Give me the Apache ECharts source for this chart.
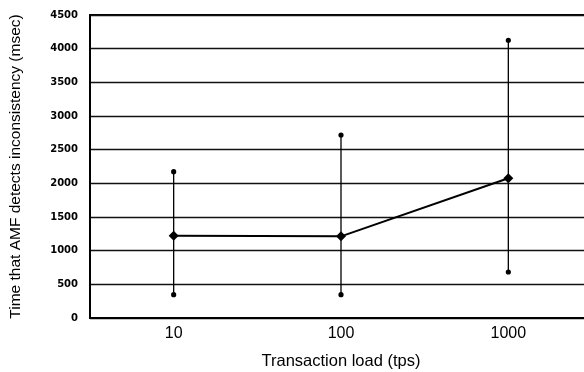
<!DOCTYPE html>
<html><head><meta charset="utf-8">
<script src="https://cdn.jsdelivr.net/npm/echarts@6/dist/echarts.min.js"></script>
<style>html,body{margin:0;padding:0;background:#fff}#c{width:584px;height:372px}</style>
</head><body><div id="c"></div>
<script>
const categories = ['10', '100', '1000'];
const meanValues = [1222, 1213, 2075];
const minValues = [346, 346, 683];
const maxValues = [2173, 2718, 4125];
const yTicks = [0, 500, 1000, 1500, 2000, 2500, 3000, 3500, 4000, 4500];

const errData = categories.map((c, i) => [i, minValues[i], maxValues[i]]);

const chart = echarts.init(document.getElementById('c'), null, {renderer: 'canvas'});
chart.setOption({
  animation: false,
  grid: {left: 90, top: 15, bottom: 54, width: 502, containLabel: false, outerBoundsMode: 'none',
    show: true, borderColor: '#000', borderWidth: 2},
  xAxis: {
    type: 'category', data: categories, boundaryGap: true,
    name: 'Transaction load (tps)', nameLocation: 'middle', nameGap: 35,
    nameTextStyle: {fontFamily: 'Liberation Sans', fontSize: 16.5, color: '#000'},
    axisLine: {lineStyle: {color: '#000', width: 2}},
    axisTick: {show: false},
    axisLabel: {fontFamily: 'Liberation Sans', fontSize: 16, color: '#000', margin: 8}
  },
  yAxis: {
    type: 'value', min: yTicks[0], max: yTicks[yTicks.length - 1], interval: 500,
    name: 'Time that AMF detects inconsistency (msec)', nameLocation: 'middle', nameGap: 66,
    nameTextStyle: {fontFamily: 'Liberation Sans', fontSize: 15.5, color: '#000'},
    axisLine: {show: true, lineStyle: {color: '#000', width: 2}},
    axisTick: {show: false},
    axisLabel: {fontFamily: 'DejaVu Sans', fontWeight: 'bold', fontSize: 10, color: '#000', margin: 12,
      formatter: v => String(v)},
    splitLine: {lineStyle: {color: '#111', width: 1.3}}
  },
  series: [
    {
      type: 'custom',
      data: errData,
      z: 3,
      renderItem: function (params, api) {
        const x = api.value(0);
        const lo = api.coord([x, api.value(1)]);
        const hi = api.coord([x, api.value(2)]);
        return {
          type: 'group',
          children: [
            {type: 'line', shape: {x1: lo[0], y1: lo[1], x2: hi[0], y2: hi[1]}, style: {stroke: '#000', lineWidth: 1.3}},
            {type: 'circle', shape: {cx: lo[0], cy: lo[1], r: 2.6}, style: {fill: '#000'}},
            {type: 'circle', shape: {cx: hi[0], cy: hi[1], r: 2.6}, style: {fill: '#000'}}
          ]
        };
      }
    },
    {
      type: 'line',
      data: meanValues,
      z: 4,
      symbol: 'diamond',
      symbolSize: 10,
      itemStyle: {color: '#000'},
      lineStyle: {color: '#000', width: 2}
    }
  ]
});
</script>
</body></html>
